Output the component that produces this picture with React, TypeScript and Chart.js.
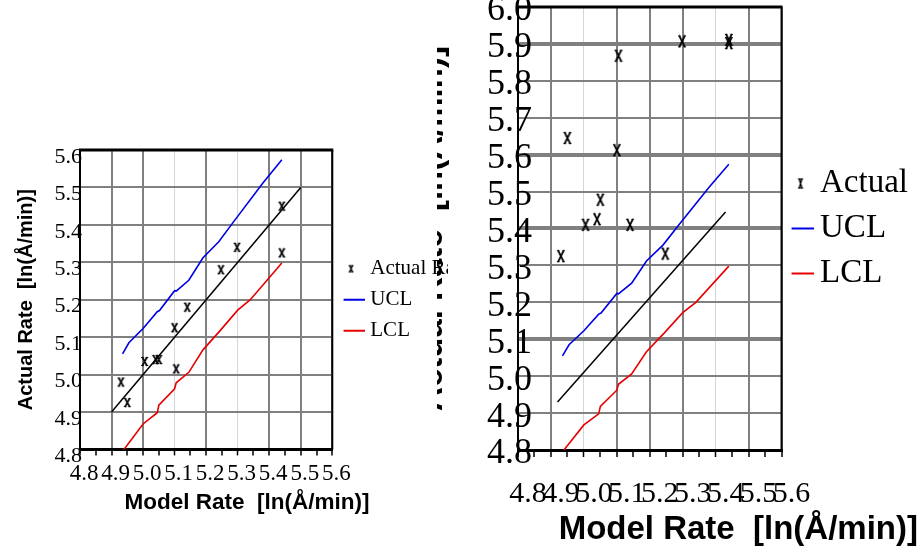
import React, { useEffect, useRef } from 'react';
import { Chart, registerables } from 'chart.js';

Chart.register(...registerables);

const SERIF = "'Liberation Serif', 'Times New Roman', serif";
const SANS = "'Liberation Sans', Arial, sans-serif";

// ---- data ----
const modelRate = [4.93, 4.95, 5.005, 5.04, 5.05, 5.105, 5.1, 5.14, 5.247, 5.298, 5.44, 5.44];
const actualRateA = [4.98, 4.925, 5.035, 5.04, 5.04, 5.015, 5.125, 5.18, 5.28, 5.34, 5.45, 5.325];
const actualRateB = [5.325, 5.645, 5.41, 5.425, 5.478, 5.868, 5.612, 5.41, 5.332, 5.907, 5.911, 5.902];

const fitAX = [4.9, 5.5];
const fitAY = [4.9, 5.5];
const fitBX = [4.92, 5.43];
const fitBY = [4.93, 5.445];

const uclX = [4.935, 4.955, 5.0, 5.045, 5.052, 5.1, 5.105, 5.145, 5.19, 5.24, 5.285, 5.38, 5.44];
const uclY = [5.055, 5.085, 5.123, 5.168, 5.171, 5.224, 5.223, 5.252, 5.312, 5.355, 5.406, 5.512, 5.574];

const lclX = [4.935, 5.0, 5.045, 5.05, 5.1, 5.105, 5.145, 5.19, 5.245, 5.3, 5.34, 5.44];
const lclY = [4.795, 4.868, 4.898, 4.918, 4.962, 4.978, 5.006, 5.066, 5.118, 5.172, 5.2, 5.298];

const xTickLabels = ['4.8', '4.9', '5.0', '5.1', '5.2', '5.3', '5.4', '5.5', '5.6'];
const yTickLabelsA = ['4.8', '4.9', '5.0', '5.1', '5.2', '5.3', '5.4', '5.5', '5.6'];
const yTickLabelsB = ['4.8', '4.9', '5.0', '5.1', '5.2', '5.3', '5.4', '5.5', '5.6', '5.7', '5.8', '5.9', '6.0'];

const xTitle = 'Model Rate  [ln(Å/min)]';
const yTitle = 'Actual Rate  [ln(Å/min)]';

const pts = (xs: number[], ys: number[]) => xs.map((x, i) => ({ x, y: ys[i] }));

function makeCross(w: number, h: number, cx: number, cw: number, ch: number, lw: number) {
  const c = document.createElement('canvas');
  c.width = w;
  c.height = h;
  const g = c.getContext('2d')!;
  const x0 = cx - cw / 2;
  const x1 = cx + cw / 2;
  const y0 = (h - ch) / 2;
  const y1 = y0 + ch;
  g.strokeStyle = '#000';
  g.lineWidth = lw;
  g.beginPath();
  g.moveTo(x0 + 1, y0);
  g.lineTo(x1 - 1, y1);
  g.moveTo(x1 - 1, y0);
  g.lineTo(x0 + 1, y1);
  g.stroke();
  g.lineWidth = 1;
  g.beginPath();
  g.moveTo(x0, y0 + 0.5);
  g.lineTo(x0 + 2.5, y0 + 0.5);
  g.moveTo(x1 - 2.5, y0 + 0.5);
  g.lineTo(x1, y0 + 0.5);
  g.moveTo(x0, y1 - 0.5);
  g.lineTo(x0 + 2.5, y1 - 0.5);
  g.moveTo(x1 - 2.5, y1 - 0.5);
  g.lineTo(x1, y1 - 0.5);
  g.stroke();
  return c;
}

function makeLine(w: number, h: number, xa: number, xb: number, color: string) {
  const c = document.createElement('canvas');
  c.width = w;
  c.height = h;
  const g = c.getContext('2d')!;
  g.strokeStyle = color;
  g.lineWidth = 2;
  g.beginPath();
  g.moveTo(xa, h / 2);
  g.lineTo(xb, h / 2);
  g.stroke();
  return c;
}

const framePlugin = {
  id: 'frame',
  afterDatasetsDraw(chart: any, _a: any, opts: any) {
    const { ctx, chartArea: a } = chart;
    ctx.save();
    ctx.strokeStyle = '#000';
    ctx.lineWidth = opts.top || 3;
    ctx.beginPath();
    ctx.moveTo(a.left - 1, a.top);
    ctx.lineTo(a.right + 1, a.top);
    ctx.stroke();
    ctx.lineWidth = opts.right || 2;
    ctx.beginPath();
    ctx.moveTo(a.right, a.top);
    ctx.lineTo(a.right, a.bottom);
    ctx.stroke();
    ctx.restore();
  },
};

const bgPlugin = {
  id: 'bgfill',
  beforeDraw(chart: any, _a: any, opts: any) {
    const { ctx, width, height } = chart;
    ctx.save();
    ctx.fillStyle = '#fff';
    ctx.fillRect(opts.from || 0, 0, width - (opts.from || 0), height);
    ctx.restore();
  },
};

interface P {
  actual: number[];
  fitX: number[];
  fitY: number[];
  actualLabel: string;
  cross: HTMLCanvasElement;
  icons: Record<number, HTMLCanvasElement>;
  pad: { left: number; top: number; right: number; bottom: number };
  yMax: number;
  yLabels: string[];
  yFont: number;
  yOffset: number;
  yPad: number;
  yTitleFont: number;
  yTitlePad: { top: number; bottom: number };
  yGridWidth: (v: number) => number;
  xFont: number;
  xOffset: number;
  xPad: number;
  xTick: number;
  xLight: number[];
  legendFont: number;
  legendPad: number;
  legendBox: number;
  titleFont: number;
  titleAlign: 'start' | 'center' | 'end';
  titlePad: { top: number; bottom: number };
  bgFrom: number;
}

function config(p: P): any {
  return {
    type: 'scatter',
    data: {
      datasets: [
        {
          label: 'fit',
          data: pts(p.fitX, p.fitY),
          showLine: true,
          borderColor: '#000',
          borderWidth: 1.5,
          pointRadius: 0,
        },
        {
          label: p.actualLabel,
          data: pts(modelRate, p.actual),
          showLine: false,
          pointStyle: p.cross,
          pointRadius: 5,
          borderColor: '#000',
          backgroundColor: '#000',
        },
        {
          label: 'UCL',
          data: pts(uclX, uclY),
          showLine: true,
          borderColor: '#0000e6',
          borderWidth: 1.6,
          pointRadius: 0,
        },
        {
          label: 'LCL',
          data: pts(lclX, lclY),
          showLine: true,
          borderColor: '#e60000',
          borderWidth: 1.6,
          pointRadius: 0,
        },
      ],
    },
    plugins: [bgPlugin, framePlugin],
    options: {
      responsive: false,
      animation: false,
      events: [],
      layout: { padding: p.pad },
      scales: {
        x: {
          type: 'linear',
          min: 4.8,
          max: 5.6,
          border: { color: '#000', width: 3 },
          grid: {
            color: (c: any) =>
              c.index % 2 ? 'rgba(0,0,0,0)' : p.xLight.includes(c.index) ? '#d6d6d6' : '#808080',
            lineWidth: (c: any) => (c.index % 2 ? 0 : p.xLight.includes(c.index) ? 1 : 2),
            tickColor: '#000',
            tickWidth: 1.5,
            tickLength: p.xTick,
            drawTicks: true,
          },
          ticks: {
            stepSize: 0.05,
            autoSkip: false,
            maxRotation: 0,
            minRotation: 0,
            padding: p.xPad,
            labelOffset: p.xOffset,
            color: '#000',
            font: { family: SERIF, size: p.xFont, lineHeight: 1.2 },
            callback: (_v: any, i: number) => (i % 2 === 0 ? xTickLabels[i / 2] : ''),
          },
        },
        y: {
          type: 'linear',
          min: 4.8,
          max: p.yMax,
          border: { color: '#000', width: 2 },
          grid: {
            color: '#808080',
            lineWidth: (c: any) => p.yGridWidth(Math.round(c.tick.value * 10)),
            drawTicks: false,
          },
          ticks: {
            stepSize: 0.1,
            autoSkip: false,
            mirror: true,
            padding: p.yPad,
            labelOffset: p.yOffset,
            color: '#000',
            font: { family: SERIF, size: p.yFont, lineHeight: 1 },
            callback: (_v: any, i: number) => p.yLabels[i],
          },
          title: {
            display: true,
            text: yTitle,
            color: '#000',
            font: { family: SANS, size: p.yTitleFont, weight: 'bold', lineHeight: 1.2 },
            padding: p.yTitlePad,
          },
        },
      },
      plugins: {
        bgfill: { from: p.bgFrom },
        frame: { top: 3, right: 2 },
        tooltip: { enabled: false },
        legend: {
          display: true,
          position: 'right',
          align: 'center',
          fullSize: false,
          maxWidth: 400,
          labels: {
            usePointStyle: true,
            boxWidth: p.legendBox,
            padding: p.legendPad,
            color: '#000',
            font: { family: SERIF, size: p.legendFont },
            generateLabels: (chart: any) =>
              (Chart.defaults.plugins.legend.labels as any)
                .generateLabels(chart)
                .filter((it: any) => it.datasetIndex !== 0)
                .map((it: any) => ({ ...it, pointStyle: p.icons[it.datasetIndex] })),
          },
        },
        title: {
          display: true,
          position: 'bottom',
          align: p.titleAlign,
          text: xTitle,
          color: '#000',
          font: { family: SANS, size: p.titleFont, weight: 'bold', lineHeight: 1.2 },
          padding: p.titlePad,
        },
      },
    },
  };
}

export default function App() {
  const leftRef = useRef<HTMLCanvasElement>(null);
  const rightRef = useRef<HTMLCanvasElement>(null);

  useEffect(() => {
    const crossA = makeCross(9, 11, 4.5, 7, 9, 1.6);
    const crossB = makeCross(10, 14, 5, 8, 12, 1.7);
    const iconsA = {
      1: makeCross(27, 10, 13.5, 5, 7, 1.4),
      2: makeLine(27, 4, 6, 27, '#0000e6'),
      3: makeLine(27, 4, 6, 27, '#e60000'),
    };
    const iconsB = {
      1: makeCross(30, 13, 17, 5, 10, 1.4),
      2: makeLine(30, 4, 8, 30, '#0000e6'),
      3: makeLine(30, 4, 8, 30, '#e60000'),
    };

    const left = new Chart(
      leftRef.current!,
      config({
        actual: actualRateA,
        fitX: fitAX,
        fitY: fitAY,
        actualLabel: 'Actual Rate',
        cross: crossA,
        icons: iconsA,
        pad: { left: 14, top: 150, right: 0, bottom: 0 },
        yMax: 5.6,
        yLabels: yTickLabelsA,
        yFont: 22,
        yOffset: 7,
        yPad: -25.5,
        yTitleFont: 20,
        yTitlePad: { top: 0, bottom: 93 },
        yGridWidth: () => 2,
        xFont: 23,
        xOffset: 4,
        xPad: 5,
        xTick: 6,
        xLight: [6, 10],
        legendFont: 21,
        legendPad: 10,
        legendBox: 17.5,
        titleFont: 22.5,
        titleAlign: 'center',
        titlePad: { top: -3.5, bottom: 38.5 },
        bgFrom: 0,
      })
    );

    const right = new Chart(
      rightRef.current!,
      config({
        actual: actualRateB,
        fitX: fitBX,
        fitY: fitBY,
        actualLabel: 'Actual',
        cross: crossB,
        icons: iconsB,
        pad: { left: 0, top: 7, right: 2, bottom: 0 },
        yMax: 6.0,
        yLabels: yTickLabelsB,
        yFont: 36,
        yOffset: 4,
        yPad: -31,
        yTitleFont: 33,
        yTitlePad: { top: -23.5, bottom: 126.9 },
        yGridWidth: (v: number) => ([59, 56, 54, 51].includes(v) ? 4 : 2),
        xFont: 30,
        xOffset: 10,
        xPad: 19,
        xTick: 7,
        xLight: [4, 12],
        legendFont: 33,
        legendPad: 12,
        legendBox: 10,
        titleFont: 33,
        titleAlign: 'end',
        titlePad: { top: -20.8, bottom: 5.2 },
        bgFrom: 11,
      })
    );

    return () => {
      left.destroy();
      right.destroy();
    };
  }, []);

  return (
    <div style={{ position: 'fixed', left: 0, top: 0, width: 920, height: 555, background: '#fff', overflow: 'hidden' }}>
      <div style={{ position: 'absolute', left: 0, top: 0, width: 480, height: 555 }}>
        <canvas ref={leftRef} width={480} height={555} style={{ display: 'block' }} />
      </div>
      <div style={{ position: 'absolute', left: 437, top: 0, width: 483, height: 555 }}>
        <canvas ref={rightRef} width={483} height={555} style={{ display: 'block' }} />
      </div>
    </div>
  );
}
